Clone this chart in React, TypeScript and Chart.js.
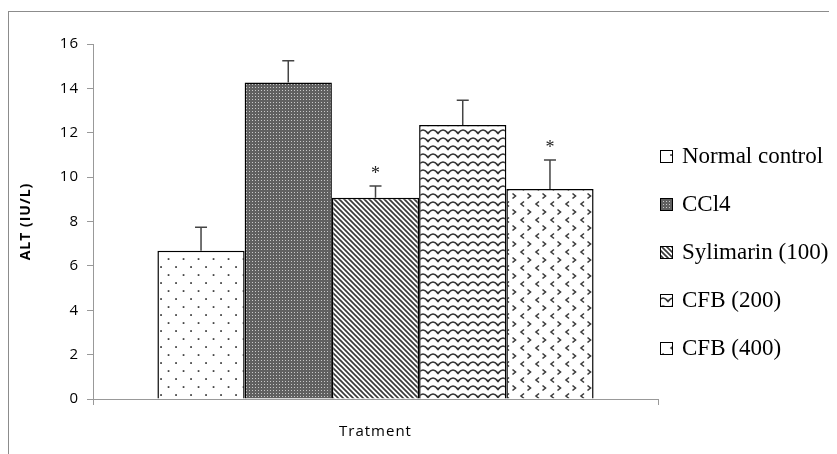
import React, { useEffect, useRef } from "react";
import { Chart, registerables } from "chart.js";

Chart.register(...registerables);

const categories = [""];
const seriesNames = ["Normal control", "CCl4", "Sylimarin (100)", "CFB (200)", "CFB (400)"];
const means = [6.68, 14.27, 9.07, 12.35, 9.46];
const errors = [1.06, 0.98, 0.53, 1.11, 1.31];
const significance = ["", "", "*", "", "*"];
const yMin = 0;
const yMax = 16;
const yStep = 2;
const yTitle = "ALT (IU/L)";
const xTitle = "Tratment";

const W = 829;
const H = 446;

function tile(w: number, h: number, draw: (c: CanvasRenderingContext2D) => void): CanvasPattern {
  const cv = document.createElement("canvas");
  cv.width = w;
  cv.height = h;
  const c = cv.getContext("2d")!;
  c.fillStyle = "#ffffff";
  c.fillRect(0, 0, w, h);
  draw(c);
  return c.createPattern(cv, "repeat")!;
}

function makePatterns(): CanvasPattern[] {
  const dots = tile(15, 16, (c) => {
    c.fillStyle = "#333";
    c.fillRect(2.2, 2.2, 1.7, 1.7);
    c.fillRect(9.7, 10.2, 1.7, 1.7);
  });
  const checker = tile(3, 3, (c) => {
    c.fillStyle = "#606060";
    c.fillRect(0, 0, 3, 3);
    c.fillStyle = "#c8c8c8";
    c.fillRect(1, 1, 1, 1);
  });
  const diag = tile(5, 5, (c) => {
    c.strokeStyle = "#3a3a3a";
    c.lineWidth = 1.7;
    for (const k of [-5, 0, 5]) {
      c.beginPath();
      c.moveTo(-2, k - 2);
      c.lineTo(7, k + 7);
      c.stroke();
    }
  });
  const wave = tile(10, 8, (c) => {
    c.strokeStyle = "#333";
    c.lineWidth = 1.7;
    c.lineJoin = "round";
    c.beginPath();
    c.moveTo(-5, 2);
    c.quadraticCurveTo(-2.5, 2, 0, 5.5);
    c.quadraticCurveTo(2.5, 2, 5, 2);
    c.quadraticCurveTo(7.5, 2, 10, 5.5);
    c.quadraticCurveTo(12.5, 2, 15, 2);
    c.stroke();
  });
  const chev = tile(15, 16, (c) => {
    c.strokeStyle = "#3c3c3c";
    c.lineWidth = 1.6;
    c.beginPath();
    c.moveTo(6, 1.5);
    c.lineTo(3, 4);
    c.lineTo(6, 6.5);
    c.stroke();
    c.beginPath();
    c.moveTo(9.5, 9.5);
    c.lineTo(12.5, 12);
    c.lineTo(9.5, 14.5);
    c.stroke();
  });
  return [dots, checker, diag, wave, chev];
}

const spacingPlugin = {
  id: "letterSpacing",
  beforeDraw(chart: any) {
    (chart.ctx as any).letterSpacing = "1px";
  },
};

const errorBarPlugin = {
  id: "errorBars",
  afterDatasetsDraw(chart: any) {
    const ctx = chart.ctx as CanvasRenderingContext2D;
    const ys = chart.scales.y;
    ctx.save();
    (ctx as any).letterSpacing = "0px";
    chart.data.datasets.forEach((ds: any, i: number) => {
      const meta = chart.getDatasetMeta(i);
      const bar = meta.data[0];
      if (!bar) return;
      const v = ds.data[0] as number;
      const e = errors[i];
      const x = bar.x;
      const yTop = ys.getPixelForValue(v + e);
      const yBar = ys.getPixelForValue(v);
      ctx.strokeStyle = "#444";
      ctx.lineWidth = 1.5;
      ctx.beginPath();
      ctx.moveTo(x, yBar);
      ctx.lineTo(x, yTop);
      ctx.moveTo(x - 6, yTop);
      ctx.lineTo(x + 6, yTop);
      ctx.stroke();
      if (significance[i]) {
        ctx.fillStyle = "#222";
        ctx.font = "18px 'Liberation Serif', serif";
        ctx.textAlign = "center";
        ctx.textBaseline = "middle";
        ctx.fillText(significance[i], x, yTop - 12);
      }
    });
    ctx.restore();
  },
};

const legendPlugin = {
  id: "customLegend",
  afterDraw(chart: any) {
    const ctx = chart.ctx as CanvasRenderingContext2D;
    ctx.save();
    (ctx as any).letterSpacing = "0px";
    const x0 = 652;
    const yStart = 149;
    const gap = 48;
    chart.data.datasets.forEach((ds: any, i: number) => {
      const cy = yStart + i * gap;
      ctx.fillStyle = ds.backgroundColor;
      ctx.fillRect(x0, cy - 7, 13, 13);
      ctx.strokeStyle = "#000";
      ctx.lineWidth = 1;
      ctx.strokeRect(x0 + 0.5, cy - 6.5, 12, 12);
      ctx.fillStyle = "#000";
      ctx.font = "23px 'Liberation Serif', serif";
      ctx.textAlign = "left";
      ctx.textBaseline = "middle";
      ctx.fillText(ds.label, x0 + 22, cy);
    });
    ctx.restore();
  },
};

export default function App() {
  const ref = useRef<HTMLCanvasElement | null>(null);
  useEffect(() => {
    if (!ref.current) return;
    const patterns = makePatterns();
    const chart = new Chart(ref.current, {
      type: "bar",
      data: {
        labels: categories,
        datasets: seriesNames.map((name, i) => ({
          label: name,
          data: [means[i]],
          backgroundColor: patterns[i] as any,
          borderColor: "#000",
          borderWidth: 1.5,
          categoryPercentage: 0.772,
          barPercentage: 1,
        })),
      },
      options: {
        responsive: false,
        animation: false,
        devicePixelRatio: 1,
        layout: { padding: { left: 0, right: W - 650, top: 36, bottom: 0 } },
        plugins: { legend: { display: false }, tooltip: { enabled: false } },
        scales: {
          x: {
            afterFit: (s: any) => {
              s.height = 55;
            },
            grid: { display: true, drawOnChartArea: false, tickLength: 6, color: "#999", offset: true },
            border: { color: "#999", width: 1 },
            ticks: { display: true },
            title: {
              display: true,
              text: xTitle,
              color: "#000",
              font: { family: "'Open Sans', sans-serif", size: 15 },
              padding: { top: 0, bottom: 13 },
            },
          },
          y: {
            min: yMin,
            max: yMax,
            afterFit: (s: any) => {
              s.width = 85;
            },
            ticks: {
              stepSize: yStep,
              color: "#000",
              padding: 8,
              font: { family: "'Open Sans', sans-serif", size: 15 },
            },
            grid: { display: true, drawOnChartArea: false, tickLength: 6, color: "#999" },
            border: { color: "#999", width: 1 },
            title: {
              display: true,
              text: yTitle,
              color: "#000",
              font: { family: "'Open Sans', sans-serif", size: 14, weight: "bold" },
              padding: { top: 10, bottom: 0 },
            },
          },
        },
      },
      plugins: [spacingPlugin, errorBarPlugin, legendPlugin],
    });
    return () => chart.destroy();
  }, []);

  return (
    <div style={{ position: "relative", width: W, height: H, overflow: "hidden" }}>
      <div
        style={{
          position: "absolute",
          left: 0,
          top: 3,
          width: 1000,
          height: 1000,
          border: "1px solid #8c8c8c",
          boxSizing: "border-box",
        }}
      />
      <canvas ref={ref} width={W} height={H} style={{ position: "absolute", left: 0, top: 0 }} />
    </div>
  );
}
